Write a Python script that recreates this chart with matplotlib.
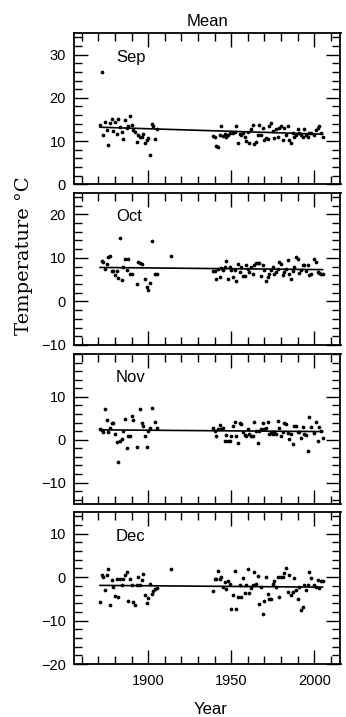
import matplotlib
matplotlib.use("Agg")
import matplotlib.pyplot as plt
from matplotlib.ticker import MultipleLocator

plt.rcParams["font.family"] = ["Liberation Sans", "DejaVu Sans"]

# Monthly mean temperatures (deg C), early record and modern record
months = ["Sep", "Oct", "Nov", "Dec"]

late_years = list(range(1939, 1999)) + list(range(2000, 2006))

sep_years = list(range(1871, 1906)) + late_years
sep_temps = [13.7, 25.9, 11.3, 14.5, 12.6, 9.0, 14.1, 15.1, 12.4, 14.4,
             11.6, 15.1, 13.2, 12.0, 10.5, 14.9, 13.0, 13.5, 15.7, 13.7,
             12.6, 12.2, 9.7, 11.4, 11.0, 10.9, 11.7, 9.5, 10.3, 10.7,
             6.8, 13.9, 13.5, 10.4, 12.8,
             11.2, 11.0, 8.9, 8.6, 11.4, 13.4, 11.2, 11.7, 11.0, 11.4,
             11.8, 12.0, 11.8, 12.0, 13.5, 9.5, 11.6, 11.3, 11.8, 11.0,
             10.1, 12.1, 9.5, 12.7, 13.7, 9.3, 9.9, 11.3, 13.7, 11.4,
             13.0, 10.3, 10.7, 10.4, 13.4, 14.1, 12.4, 10.7, 12.7, 11.0,
             13.0, 13.5, 10.3, 13.0, 11.4, 13.4, 10.3, 9.5, 11.8, 11.0,
             11.4, 12.7, 11.8, 11.4, 10.9, 12.8, 11.4, 11.0, 11.8, 11.8,
             11.4, 12.6, 13.0, 13.5, 11.8, 11.0]

oct_years = (list(range(1872, 1891)) + list(range(1893, 1897))
             + list(range(1898, 1903)) + [1904, 1905, 1914] + late_years)
oct_temps = [9.3, 9.1, 7.4, 8.5, 10.2, 10.5, 6.9, 6.9, 6.0, 6.9,
             5.4, 14.6, 5.0, 7.8, 9.8, 7.2, 9.7, 6.4, 6.4, 3.9,
             9.1, 8.8, 8.5, 5.2, 3.3, 2.7, 4.3, 13.9, 6.2, 6.2, 10.5,
             6.9, 6.9, 5.2, 7.4, 5.6, 7.7, 7.2, 7.8, 9.2, 5.2,
             7.8, 7.2, 5.6, 7.2, 4.7, 8.7, 6.8, 7.9, 5.8, 5.8,
             8.3, 7.4, 6.8, 7.9, 6.2, 8.3, 8.9, 8.9, 8.8, 5.8,
             8.3, 7.3, 4.8, 5.5, 6.4, 7.2, 7.9, 6.4, 6.8, 7.4,
             9.1, 8.7, 6.0, 6.8, 7.4, 9.5, 6.4, 5.2, 6.9, 7.9,
             10.2, 9.7, 6.5, 7.2, 8.3, 8.3, 7.0, 8.3, 6.0, 6.2,
             9.8, 9.1, 6.8, 6.5, 6.4, 6.2]

nov_years = (list(range(1871, 1892)) + [1893] + list(range(1895, 1903))
             + [1904, 1905] + late_years)
nov_temps = [2.5, 2.3, 1.9, 7.1, 4.6, 1.9, 2.8, 3.8, 4.0, 1.3,
             -0.5, -5.2, -0.2, 0.2, 2.1, 4.8, -2.0, 0.9, 0.9, 5.5,
             4.6, -1.8, 7.1, 3.8, 3.1, 0.9, -1.8, 2.1, 2.8, 7.3,
             4.2, 2.7,
             2.8, 2.1, 0.8, 2.5, 3.4, 2.6, 2.8, -0.2, 1.1, -0.2,
             -0.2, 0.9, 3.2, 4.2, 0.8, -0.8, 3.8, 3.6, 1.8, 1.1,
             0.8, 2.5, 1.3, 0.9, 0.8, 4.2, 2.1, -0.8, 2.1, 2.5,
             4.0, 2.6, 2.8, 4.2, 1.3, 1.5, 1.3, 1.7, 1.3, 4.4,
             2.8, 0.9, 1.7, 3.8, 3.6, 1.5, 0.2, 1.3, -1.0, 3.2,
             3.2, 1.8, 1.7, 0.3, 3.0, 1.3, 1.1, -2.7, 5.3, 3.0,
             1.5, 4.2, -0.4, 3.0, 2.1, 0.4]

dec_years = list(range(1871, 1906)) + [1914] + late_years
dec_temps = [-5.8, 0.5, 0.0, -2.9, 0.5, 1.9, -6.3, -0.6, -2.3, -4.4,
             -0.5, -4.6, -0.4, -1.7, -0.5, 0.5, 1.2, -5.4, -0.5, -1.7,
             -5.8, -6.5, -1.7, 0.0, -1.7, -0.6, 0.8, -4.2, -5.9, -4.8,
             -1.5, -3.8, -3.2, -2.7, -2.5, 1.8,
             -3.2, -0.5, -0.4, 1.3, -0.4, 0.0, -2.2, -1.2, -2.8, -0.8,
             -1.5, -7.3, -4.2, 1.4, -7.3, -4.5, -1.7, -4.5, -0.2, -3.7,
             -1.9, 1.9, -3.7, -2.5, -1.9, 1.2, -1.5, 0.2, -6.2, -2.2,
             -8.5, -5.4, 0.0, -3.8, -5.0, -5.0, -1.5, -0.9, -2.2, 0.0,
             -4.6, 0.0, 0.0, 1.0, 2.2, -3.5, 0.4, -4.2, -3.5, -0.2,
             -2.9, -5.0, -2.2, -7.5, -6.8, -1.8, -2.9, -1.8, 1.2, -0.2,
             -1.7, -2.2, -0.6, -2.5, -1.0, -0.8]

# Linear trend end points
trend_years = [1871, 2005]
sep_trend = [13.2, 11.6]
oct_trend = [7.8, 7.3]
nov_trend = [2.3, 1.9]
dec_trend = [-1.9, -2.3]

# Axis ranges and labelled ticks per panel
y_limits = [(0, 35), (-10, 25), (-15, 20), (-20, 15)]
y_ticks = [[0, 10, 20, 30], [-10, 0, 10, 20], [-10, 0, 10], [-20, -10, 0, 10]]
x_ticks = [1900, 1950, 2000]


def style_axis(ax, show_x_labels):
    """Inward ticks on all four sides, like the original plot."""
    ax.xaxis.set_major_locator(MultipleLocator(50))
    ax.xaxis.set_minor_locator(MultipleLocator(10))
    ax.yaxis.set_minor_locator(MultipleLocator(2))
    ax.tick_params(which="both", direction="in", top=True, right=True,
                   width=1.0, labelsize=10.5)
    ax.tick_params(which="major", length=10)
    ax.tick_params(which="minor", length=5.5)
    ax.tick_params(axis="y", pad=6)
    ax.tick_params(axis="x", pad=7, labelbottom=show_x_labels)
    for spine in ax.spines.values():
        spine.set_linewidth(1.3)


if __name__ == "__main__":
    fig = plt.figure(figsize=(3.46, 7.17), dpi=100)
    W, H = 346.0, 717.0

    # panel boxes in pixels: (top, bottom)
    boxes = [(33, 184.3), (192.5, 345), (354, 504), (512, 664)]
    left, right = 74.3, 340.5

    series = [(sep_years, sep_temps, sep_trend),
              (oct_years, oct_temps, oct_trend),
              (nov_years, nov_temps, nov_trend),
              (dec_years, dec_temps, dec_trend)]

    axes = []
    for i, ((top, bottom), (yrs, temps, trend)) in enumerate(zip(boxes, series)):
        ax = fig.add_axes([left / W, 1 - bottom / H, (right - left) / W, (bottom - top) / H])
        ax.plot(yrs, temps, "o", color="black", markersize=2.7, markeredgewidth=0)
        ax.plot(trend_years, trend, "-", color="black", linewidth=1.2)
        ax.set_xlim(1855.5, 2015.8)
        ax.set_ylim(*y_limits[i])
        ax.set_yticks(y_ticks[i])
        style_axis(ax, show_x_labels=(i == len(boxes) - 1))
        ax.text(0.157, 0.81, months[i], transform=ax.transAxes,
                fontsize=12, ha="left", va="baseline")
        axes.append(ax)

    axes[-1].set_xticks(x_ticks)
    axes[0].set_title("Mean", fontsize=12, pad=5)

    fig.text(210.5 / W, 1 - 714 / H, "Year", fontsize=12, ha="center", va="baseline")
    fig.text(24 / W, 1 - 256 / H, "Temperature °C", fontsize=14, rotation=90,
             ha="center", va="center", family=["DejaVu Serif"])

    fig.savefig("out.png", dpi=100)
